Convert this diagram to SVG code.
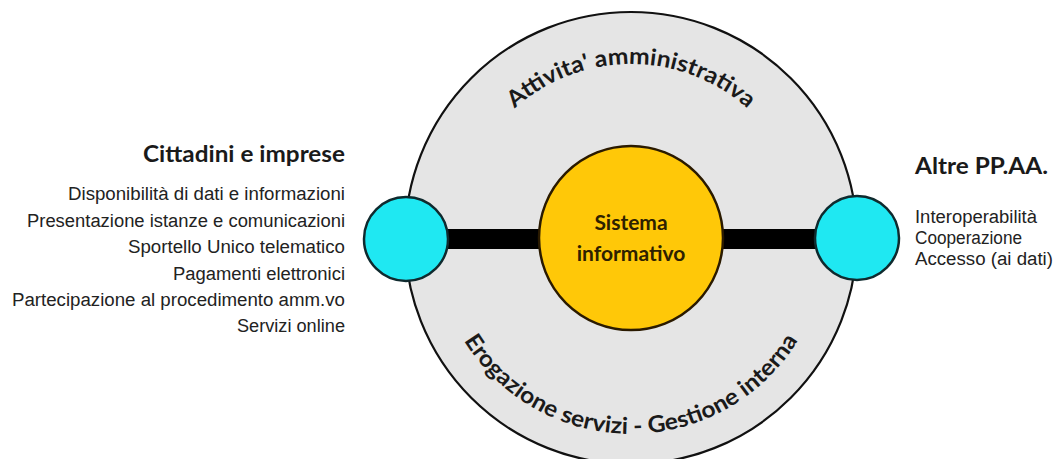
<svg xmlns="http://www.w3.org/2000/svg" width="1055" height="459" viewBox="0 0 1055 459">
  <defs>
    <style>
      .title { font-family: Lato, "Open Sans", sans-serif; font-weight: bold; font-size: 22px; fill: #1a1a1a; }
      .item { font-family: "Liberation Sans", Arial, sans-serif; font-size: 18px; fill: #222; }
      .arc-label { font-family: Lato, "Open Sans", sans-serif; font-weight: bold; font-size: 23px; fill: #1a1a1a; }
      .core-label { font-family: Lato, "Open Sans", sans-serif; font-weight: bold; font-size: 21px; fill: #2e2100; text-anchor: middle; }
      .ring { fill: #e5e5e5; stroke: #111; stroke-width: 2.2; }
      .core { fill: #ffc808; stroke: #2a1a00; stroke-width: 2.5; }
      .port { fill: #1fe8f2; stroke: #0f2a2e; stroke-width: 2.5; }
      .link { stroke: #000; stroke-width: 20; fill: none; }
    </style>
    <path id="arcTop" d="M 457 238 A 174 174 0 0 1 805 238"/>
    <path id="arcBottom" d="M 435 238 A 196 196 0 0 0 827 238"/>
  </defs>

  <rect width="1055" height="459" fill="#ffffff"/>

  <!-- outer ring: administrative activity -->
  <g id="ring">
    <circle class="ring" cx="631" cy="238" r="226"/>
    <text class="arc-label"><textPath href="#arcTop" startOffset="50%" text-anchor="middle" textLength="255" lengthAdjust="spacingAndGlyphs">Attivita' amministrativa</textPath></text>
    <text class="arc-label"><textPath href="#arcBottom" startOffset="50%" text-anchor="middle" textLength="400" lengthAdjust="spacingAndGlyphs">Erogazione servizi - Gestione interna</textPath></text>
  </g>

  <!-- links between the core and the two access points -->
  <g id="connectors">
    <line class="link" x1="440" y1="239" x2="560" y2="239"/>
    <line class="link" x1="700" y1="239" x2="825" y2="239"/>
  </g>

  <g id="sistema-informativo">
    <circle class="core" cx="631" cy="238" r="92"/>
    <text class="core-label" x="631" y="230">Sistema</text>
    <text class="core-label" x="631" y="261">informativo</text>
  </g>

  <g id="cittadini-imprese">
    <circle class="port" cx="406" cy="239" r="42"/>
    <text class="title" x="345" y="162" text-anchor="end" textLength="202" lengthAdjust="spacingAndGlyphs">Cittadini e imprese</text>
    <text class="item" x="345" y="200" text-anchor="end" textLength="277" lengthAdjust="spacingAndGlyphs">Disponibilità di dati e informazioni</text>
    <text class="item" x="345" y="226.5" text-anchor="end" textLength="318" lengthAdjust="spacingAndGlyphs">Presentazione istanze e comunicazioni</text>
    <text class="item" x="345" y="253" text-anchor="end" textLength="217" lengthAdjust="spacingAndGlyphs">Sportello Unico telematico</text>
    <text class="item" x="345" y="279.5" text-anchor="end" textLength="172" lengthAdjust="spacingAndGlyphs">Pagamenti elettronici</text>
    <text class="item" x="345" y="306" text-anchor="end" textLength="333" lengthAdjust="spacingAndGlyphs">Partecipazione al procedimento amm.vo</text>
    <text class="item" x="345" y="332" text-anchor="end" textLength="108" lengthAdjust="spacingAndGlyphs">Servizi online</text>
  </g>

  <g id="altre-ppaa">
    <circle class="port" cx="857" cy="238" r="42"/>
    <text class="title" x="915" y="174" textLength="133" lengthAdjust="spacingAndGlyphs">Altre PP.AA.</text>
    <text class="item" x="915" y="223" textLength="122" lengthAdjust="spacingAndGlyphs">Interoperabilità</text>
    <text class="item" x="915" y="244" textLength="107" lengthAdjust="spacingAndGlyphs">Cooperazione</text>
    <text class="item" x="915" y="265" textLength="138" lengthAdjust="spacingAndGlyphs">Accesso (ai dati)</text>
  </g>
</svg>
